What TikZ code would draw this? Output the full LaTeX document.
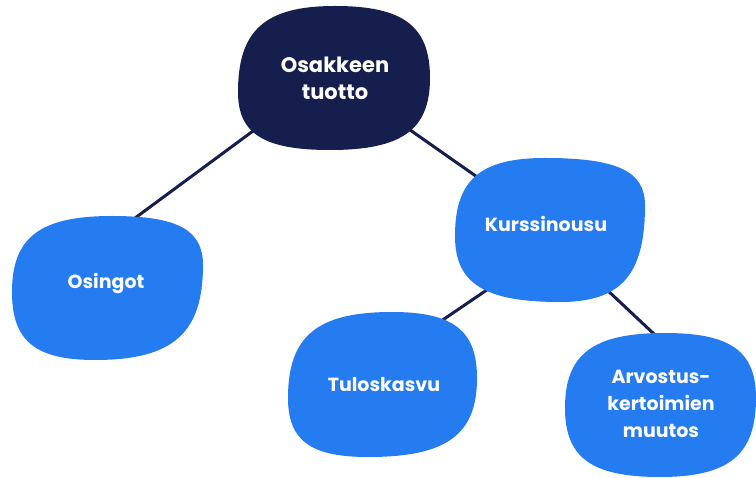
\documentclass[tikz,border=0pt]{standalone}
\usepackage{fontspec}
\setmainfont{Poppins}[BoldFont={* Bold}]
\definecolor{navy}{HTML}{151E4C}
\definecolor{blobblue}{HTML}{257BF0}
\pgfdeclarelayer{bg}
\pgfdeclarelayer{blob}
\pgfsetlayers{bg,blob,main}
% #1 style, #2 L, #3 T, #4 R, #5 B, #6 xt, #7 yr, #8 xb, #9 yl
\newcommand\myblob[9]{%
  \fill[#1] (#6,#3)
   .. controls ({#6+0.72*(#4-#6)},#3) and (#4,{#7-0.72*(#7-#3)}) .. (#4,#7)
   .. controls (#4,{#7+0.72*(#5-#7)}) and ({#8+0.72*(#4-#8)},#5) .. (#8,#5)
   .. controls ({#8-0.72*(#8-#2)},#5) and (#2,{#9+0.72*(#5-#9)}) .. (#2,#9)
   .. controls (#2,{#9-0.72*(#9-#3)}) and ({#6-0.72*(#6-#2)},#3) .. cycle;}
\begin{document}
\begin{tikzpicture}[x=1pt,y=-1pt,
  lbl/.style={text=white,font=\bfseries\fontsize{19}{27}\selectfont,align=center,inner sep=0pt},
  toplbl/.style={lbl,font=\bfseries\fontsize{21}{27}\selectfont},
  conn/.style={draw=navy,line width=3pt},
  blobfill/.style={fill=blobblue},
  darkfill/.style={fill=navy}]
\useasboundingbox (0,0) rectangle (756,478);
\node[toplbl] (top) at (335,78) {Osakkeen\\tuotto};
\node[lbl] (osi) at (106,284) {Osingot};
\node[lbl] (kur) at (546,224) {Kurssinousu};
\node[lbl] (tul) at (384,385) {Tuloskasvu};
\node[lbl] (arv) at (661,404) {Arvostus-\\kertoimien\\muutos};
% connector ends, hidden inside the blobs
\coordinate (topL) at (272,117);
\coordinate (osiT) at (108,238);
\coordinate (topR) at (393,118);
\coordinate (kurTL) at (490,186);
\coordinate (kurBL) at (503,279);
\coordinate (tulT) at (422,334);
\coordinate (kurBR) at (589,273);
\coordinate (arvT) at (670,349);
\begin{pgfonlayer}{bg}
\draw[conn] (topL) -- (osiT);
\draw[conn] (topR) -- (kurTL);
\draw[conn] (kurBL) -- (tulT);
\draw[conn] (kurBR) -- (arvT);
\end{pgfonlayer}
\begin{pgfonlayer}{blob}
\myblob{darkfill}{238}{6}{430}{150}{335}{78}{330}{92}
\myblob{blobfill}{12}{216}{203}{360}{112}{265}{95}{292}
\myblob{blobfill}{455}{158}{645}{302}{545}{205}{560}{236}
\myblob{blobfill}{288}{312}{477}{457}{392}{378}{368}{398}
\myblob{blobfill}{565}{333}{756}{477}{665}{398}{660}{408}
\end{pgfonlayer}
\end{tikzpicture}
\end{document}
